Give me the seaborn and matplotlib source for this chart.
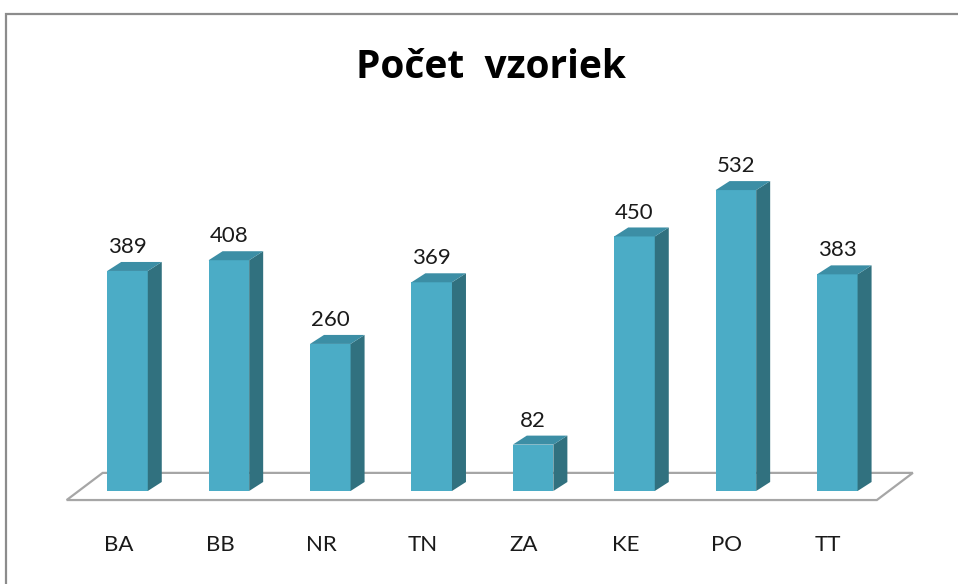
import matplotlib
matplotlib.use("Agg")
import matplotlib.pyplot as plt
import seaborn as sns
import pandas as pd
from matplotlib.patches import Polygon, Rectangle
from matplotlib.transforms import ScaledTranslation

# data
regions = ['BA', 'BB', 'NR', 'TN', 'ZA', 'KE', 'PO', 'TT']
counts = [389, 408, 260, 369, 82, 450, 532, 383]
title = 'Počet  vzoriek'

df = pd.DataFrame({'region': regions, 'count': counts})

sns.set_style('white')
plt.rcParams['font.family'] = ['Lato', 'DejaVu Sans']

front_col = '#4bacc6'
side_col = '#31717f'
top_col = '#3c8ea5'

W, H = 958, 584
fig = plt.figure(figsize=(W / 100, H / 100), dpi=100)
ax = fig.add_axes([0, 64 / H, 1, 520 / H])

# fake 3d depth (category units, value units)
dx, dy = 0.138, 15.9

# floor
fl, fr, fy0, fy1, fdx = -0.6, 7.39, -16, 32, 0.355
ax.add_patch(Polygon([(fl, fy0), (fr, fy0), (fr + fdx, fy1), (fl + fdx, fy1)],
                     closed=True, facecolor='white', edgecolor='#a6a6a6',
                     linewidth=1.6, zorder=1))

sns.barplot(data=df, x='region', y='count', color=front_col, saturation=1,
            width=0.4, ax=ax, zorder=3, linewidth=0)

bars = ax.containers[0]
for p in bars:
    x0, w, h = p.get_x(), p.get_width(), p.get_height()
    ax.add_patch(Polygon([(x0 + w, 0), (x0 + w + dx, dy), (x0 + w + dx, h + dy), (x0 + w, h)],
                         closed=True, facecolor=side_col, edgecolor='none', zorder=3))
    ax.add_patch(Polygon([(x0, h), (x0 + dx, h + dy), (x0 + w + dx, h + dy), (x0 + w, h)],
                         closed=True, facecolor=top_col, edgecolor='none', zorder=3))

ax.bar_label(bars, padding=10, fontsize=16, color='#1a1a1a')

ax.set_xlim(-127.5 / 101.4, (W - 127.5) / 101.4)
ax.set_ylim(-51.3, -51.3 + 520 / 0.5656)
ax.set_xlabel('')
ax.set_ylabel('')
ax.set_yticks([])
ax.tick_params(axis='x', length=0, pad=11, labelsize=16, labelcolor='#1a1a1a')
shift = ScaledTranslation(-9 / 100, 0, fig.dpi_scale_trans)
for lab in ax.get_xticklabels():
    lab.set_transform(lab.get_transform() + shift)
sns.despine(ax=ax, left=True, bottom=True)
ax.patch.set_alpha(0)

fig.text(491 / W, 1 - 78 / H, title, ha='center', va='baseline',
         fontsize=28, fontweight='bold', color='black',
         family=['Open Sans', 'DejaVu Sans'])

# chart area frame (cut off at right and bottom)
fig.add_artist(Rectangle((5.5 / W, -0.1), 1.2, 0.1 + (H - 14) / H,
                         transform=fig.transFigure, fill=False,
                         edgecolor='#8c8c8c', linewidth=1.6))

fig.savefig('out.png', dpi=100)
